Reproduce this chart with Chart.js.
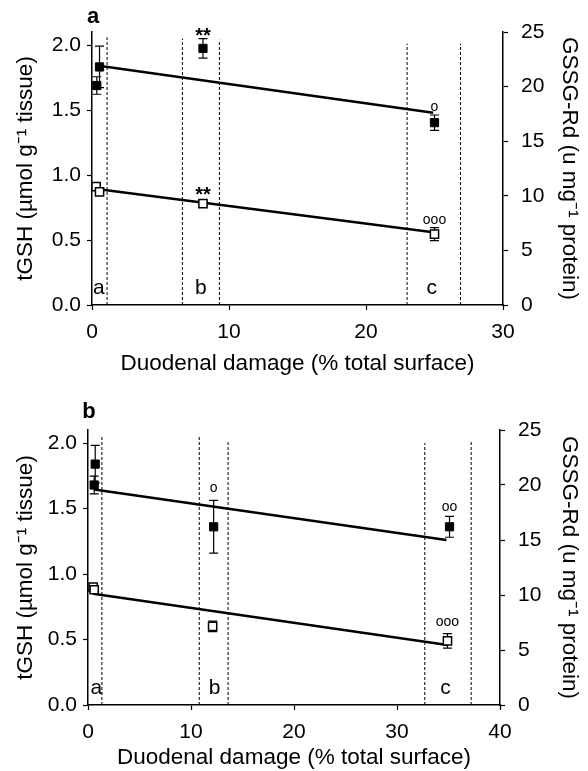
<!DOCTYPE html>
<html>
<head>
<meta charset="utf-8">
<script src="https://cdn.jsdelivr.net/npm/chart.js@4.4.1/dist/chart.umd.min.js"></script>
<style>
  html, body { margin: 0; padding: 0; background: #fff; }
  .panel { position: absolute; left: 0; width: 588px; }
  #panelA { top: 0; height: 385px; }
  #panelB { top: 385px; height: 386px; }
</style>
</head>
<body>
<div class="panel" id="panelA"><canvas id="chartA"></canvas></div>
<div class="panel" id="panelB"><canvas id="chartB"></canvas></div>
<script>
// shared
const groupNames = ['a', 'b', 'c'];
const yTicks = [0, 0.5, 1, 1.5, 2];
const y2Ticks = [0, 5, 10, 15, 20, 25];

// panel a
const xTicksA = [0, 10, 20, 30];
const gssgXA = [0.35, 0.55, 8.1, 25.0];
const gssgA = [20.1, 21.8, 23.5, 16.7];
const gssgErrA = [0.8, 1.9, 0.9, 0.7];
const tgshXA = [0.3, 0.55, 8.1, 25.0];
const tgshA = [0.91, 0.87, 0.78, 0.545];
const tgshErrA = [0.015, 0.015, 0.02, 0.05];
const gssgFitXA = [0.5, 24.9];
const gssgFitA = [21.9, 17.6];
const tgshFitXA = [0.5, 24.9];
const tgshFitA = [0.89, 0.56];
const boundsA = [1.1, 6.6, 9.3, 23.0, 26.9];
const boundTopsA = [2.06, 2.05, 2.04, 2.01, 2.01];
const groupXA = [0.5, 7.95, 24.8];
const sigTextA = ['**', 'o', '**', 'ooo'];
const sigXA = [8.1, 25.0, 8.1, 25.0];
const sigYA = [2.1, 1.52, 0.877, 0.654];

// panel b
const xTicksB = [0, 10, 20, 30, 40];
const gssgXB = [0.7, 0.6, 12.2, 35.1];
const gssgB = [21.9, 20.0, 16.2, 16.2];
const gssgErrB = [1.7, 0.8, 2.4, 0.95];
const tgshXB = [0.5, 0.6, 12.1, 34.9];
const tgshB = [0.9, 0.88, 0.60, 0.49];
const tgshErrB = [0.02, 0.02, 0.04, 0.055];
const gssgFitXB = [0.6, 34.8];
const gssgFitB = [19.6, 15.0];
const tgshFitXB = [0.5, 34.9];
const tgshFitB = [0.85, 0.458];
const boundsB = [1.35, 10.8, 13.6, 32.7, 37.2];
const boundTopsB = [2.06, 2.05, 2.02, 2.0, 2.02];
const groupXB = [0.8, 12.3, 34.7];
const sigTextB = ['o', 'oo', 'ooo'];
const sigXB = [12.2, 35.1, 34.9];
const sigYB = [1.656, 1.51, 0.634];

const FONT = '"Liberation Sans", Arial, sans-serif';
Chart.defaults.font.family = FONT;
Chart.defaults.color = '#000';

function pts(xs, ys) {
  return xs.map((x, i) => ({x: x, y: ys[i]}));
}

function axisLook() {
  return {
    grid: {drawOnChartArea: false, tickLength: 5, tickWidth: 1.2, tickColor: '#000'},
    border: {color: '#000', width: 1.5}
  };
}

function makePanel(id, p) {
  const datasets = [
    {data: pts(p.gssgX, p.gssg), errors: p.gssgErr, yAxisID: 'y2', pointStyle: 'rect',
      pointRadius: 5.8, backgroundColor: '#000', borderColor: '#000', borderWidth: 1},
    {data: pts(p.tgshX, p.tgsh), errors: p.tgshErr, yAxisID: 'y', pointStyle: 'rect',
      pointRadius: 5.8, backgroundColor: '#fff', borderColor: '#000', borderWidth: 1.5},
    {data: pts(p.gssgFitX, p.gssgFit), yAxisID: 'y2', showLine: true,
      borderColor: '#000', borderWidth: 2.5, pointRadius: 0},
    {data: pts(p.tgshFitX, p.tgshFit), yAxisID: 'y', showLine: true,
      borderColor: '#000', borderWidth: 2.5, pointRadius: 0}
  ];
  p.bounds.forEach((b, i) => {
    datasets.push({data: [{x: b, y: 0}, {x: b, y: p.boundTops[i]}], yAxisID: 'y', showLine: true,
      borderColor: '#000', borderWidth: 1, borderDash: [3, 2], pointRadius: 0});
  });

  const marks = {
    id: 'marks',
    beforeDatasetsDraw(chart) {
      const ctx = chart.ctx;
      ctx.save();
      ctx.strokeStyle = '#000';
      ctx.lineWidth = 1.2;
      chart.data.datasets.forEach(ds => {
        if (!ds.errors) return;
        const ys = chart.scales[ds.yAxisID];
        ds.data.forEach((pt, i) => {
          const px = chart.scales.x.getPixelForValue(pt.x);
          const top = ys.getPixelForValue(pt.y + ds.errors[i]);
          const bot = ys.getPixelForValue(pt.y - ds.errors[i]);
          ctx.beginPath();
          ctx.moveTo(px, top); ctx.lineTo(px, bot);
          ctx.moveTo(px - 4.5, top); ctx.lineTo(px + 4.5, top);
          ctx.moveTo(px - 4.5, bot); ctx.lineTo(px + 4.5, bot);
          ctx.stroke();
        });
      });
      ctx.restore();
    },
    afterDraw(chart) {
      const ctx = chart.ctx, xs = chart.scales.x, ys = chart.scales.y;
      ctx.save();
      ctx.fillStyle = '#000';
      ctx.textAlign = 'center';
      ctx.textBaseline = 'middle';
      ctx.font = '21px ' + FONT;
      groupNames.forEach((g, i) => {
        ctx.fillText(g, xs.getPixelForValue(p.groupX[i]), ys.getPixelForValue(0.13));
      });
      p.sigText.forEach((t, i) => {
        const star = t.indexOf('*') >= 0;
        ctx.font = star ? 'bold 20px ' + FONT : '14px ' + FONT;
        ctx.fillText(t, xs.getPixelForValue(p.sigX[i]), ys.getPixelForValue(p.sigY[i]) + (star ? 4 : 0));
      });
      ctx.font = 'bold 22px ' + FONT;
      ctx.fillText(p.letter, chart.chartArea.left + 1, chart.chartArea.top - p.letterGap);
      ctx.restore();
    }
  };

  new Chart(document.getElementById(id), {
    type: 'scatter',
    data: {datasets: datasets},
    options: {
      responsive: true,
      maintainAspectRatio: false,
      animation: false,
      layout: {padding: {top: p.top, left: 0, right: 0, bottom: 0}},
      plugins: {legend: {display: false}, tooltip: {enabled: false}},
      scales: {
        x: Object.assign(axisLook(), {
          type: 'linear', min: 0, max: p.xTicks[p.xTicks.length - 1],
          afterBuildTicks: s => { s.ticks = p.xTicks.map(v => ({value: v})); },
          afterFit: s => { s.height = p.xHeight; },
          ticks: {font: {size: 21}, padding: 10},
          title: {display: true, text: 'Duodenal damage (% total surface)', font: {size: 22.5},
            padding: {top: 0, bottom: p.xTitlePad}}
        }),
        y: Object.assign(axisLook(), {
          position: 'left', min: 0, max: 2.1,
          afterBuildTicks: s => { s.ticks = yTicks.map(v => ({value: v})); },
          afterFit: s => { s.width = p.yWidth; },
          ticks: {font: {size: 21}, padding: 6, callback: v => v.toFixed(1)},
          title: {display: true, text: 'tGSH (µmol g⁻¹ tissue)', font: {size: 22.5},
            padding: {top: 12, bottom: 0}}
        }),
        y2: Object.assign(axisLook(), {
          position: 'right', min: 0, max: 25,
          afterBuildTicks: s => { s.ticks = y2Ticks.map(v => ({value: v})); },
          afterFit: s => { s.width = p.y2Width; },
          ticks: {font: {size: 21}, padding: 13},
          title: {display: true, text: 'GSSG-Rd (u mg⁻¹ protein)', font: {size: 22.5},
            padding: {top: 5, bottom: 0}}
        })
      }
    },
    plugins: [marks]
  });
}

makePanel('chartA', {
  xTicks: xTicksA, gssgX: gssgXA, gssg: gssgA, gssgErr: gssgErrA,
  tgshX: tgshXA, tgsh: tgshA, tgshErr: tgshErrA,
  gssgFitX: gssgFitXA, gssgFit: gssgFitA, tgshFitX: tgshFitXA, tgshFit: tgshFitA,
  bounds: boundsA, boundTops: boundTopsA, groupX: groupXA,
  sigText: sigTextA, sigX: sigXA, sigY: sigYA,
  letter: 'a', letterGap: 15,
  top: 32, yWidth: 92, y2Width: 85, xHeight: 80, xTitlePad: 8
});

makePanel('chartB', {
  xTicks: xTicksB, gssgX: gssgXB, gssg: gssgB, gssgErr: gssgErrB,
  tgshX: tgshXB, tgsh: tgshB, tgshErr: tgshErrB,
  gssgFitX: gssgFitXB, gssgFit: gssgFitB, tgshFitX: tgshFitXB, tgshFit: tgshFitB,
  bounds: boundsB, boundTops: boundTopsB, groupX: groupXB,
  sigText: sigTextB, sigX: sigXB, sigY: sigYB,
  letter: 'b', letterGap: 18,
  top: 45, yWidth: 88, y2Width: 88, xHeight: 66, xTitlePad: 0
});
</script>
</body>
</html>
